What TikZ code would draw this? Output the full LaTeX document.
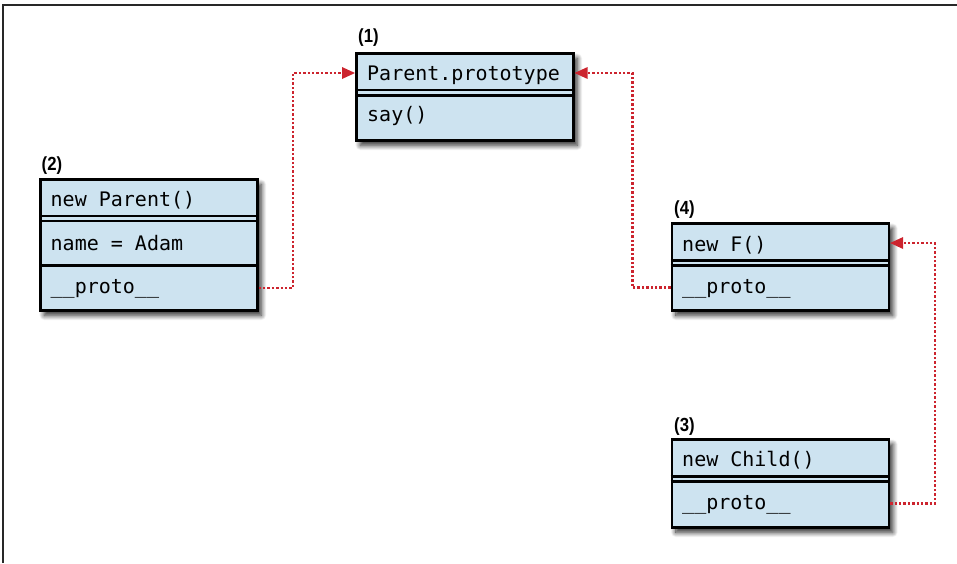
\documentclass[tikz,border=0pt]{standalone}
\usepackage{fontspec}
\setmonofont{DejaVu Sans Mono}
\newfontfamily\labfont[FakeStretch=0.88]{Liberation Sans}
\usetikzlibrary{arrows.meta,shadows.blur}
\definecolor{boxfill}{RGB}{205,227,240}
\definecolor{linkred}{RGB}{204,36,46}
\definecolor{framegray}{RGB}{40,40,40}
\tikzset{
  umlbox/.style={draw=black, line width=2.6pt, fill=boxfill, rectangle, inner sep=0pt,
    anchor=north west, minimum width=217pt,
    blur shadow={shadow xshift=4pt, shadow yshift=-5pt, shadow blur radius=5pt, shadow blur steps=12, shadow opacity=85}},
  txt/.style={anchor=base west, inner sep=0pt, font=\ttfamily\fontsize{20}{22}\selectfont},
  lab/.style={anchor=base west, inner sep=0pt, font=\labfont\bfseries\fontsize{19}{21}\selectfont},
  sepline/.style={draw=black, line width=2.2pt},
  link/.style={draw=linkred, line width=2.7pt, dash pattern=on 2.4pt off 2pt,
    -{Triangle[length=13pt,width=12pt,fill=linkred,line width=0pt,sep=0pt]}},
}
\begin{document}
\begin{tikzpicture}[x=1pt,y=-1pt]
\useasboundingbox (0,0) rectangle (957,563);
% frame
\draw[framegray, line width=1.6pt] (3,563) -- (3,5) -- (957,5);

% Box 1
\node[umlbox, minimum height=87pt] (b1) at (355,52) {};
\draw[sepline] (b1.west |- 0,90) -- (b1.east |- 0,90);
\draw[sepline] (b1.west |- 0,95.5) -- (b1.east |- 0,95.5);
\node[txt] (b1a) at (367,80) {Parent.prototype};
\node[txt] (b1b) at (367,121) {say()};
\node[lab] (l1) at (358,42) {(1)};

% Box 2
\node[umlbox, minimum height=131pt] (b2) at (39,178) {};
\draw[sepline] (b2.west |- 0,216) -- (b2.east |- 0,216);
\draw[sepline] (b2.west |- 0,221) -- (b2.east |- 0,221);
\draw[sepline] (b2.west |- 0,265.5) -- (b2.east |- 0,265.5);
\node[txt] (b2a) at (50.5,206.5) {new Parent()};
\node[txt] (b2b) at (50.5,250) {name = Adam};
\node[txt] (b2c) at (50.5,293.5) {\_\_proto\_\_};
\node[lab] (l2) at (41.5,170.5) {(2)};

% Box 4
\node[umlbox, minimum height=87pt] (b4) at (670.5,222) {};
\draw[sepline] (b4.west |- 0,260.5) -- (b4.east |- 0,260.5);
\draw[sepline] (b4.west |- 0,265.5) -- (b4.east |- 0,265.5);
\node[txt] (b4a) at (682,251.5) {new F()};
\node[txt] (b4b) at (682,293.5) {\_\_proto\_\_};
\node[lab] (l4) at (674,214.5) {(4)};

% Box 3
\node[umlbox, minimum height=88pt] (b3) at (670.5,438) {};
\draw[sepline] (b3.west |- 0,476.5) -- (b3.east |- 0,476.5);
\draw[sepline] (b3.west |- 0,481.5) -- (b3.east |- 0,481.5);
\node[txt] (b3a) at (682,466) {new Child()};
\node[txt] (b3b) at (682,509.5) {\_\_proto\_\_};
\node[lab] (l3) at (674,431) {(3)};

% connectors
\draw[link] (b2.east |- 0,288) -- (293,288) -- (293,73) -- (b1.west |- 0,73);
\draw[link] (b4.west |- 0,287.5) -- (632.5,287.5) -- (632.5,73) -- (b1.east |- 0,73);
\draw[link] (b3.east |- 0,503.5) -- (935,503.5) -- (935,243) -- (b4.east |- 0,243);
\end{tikzpicture}
\end{document}
